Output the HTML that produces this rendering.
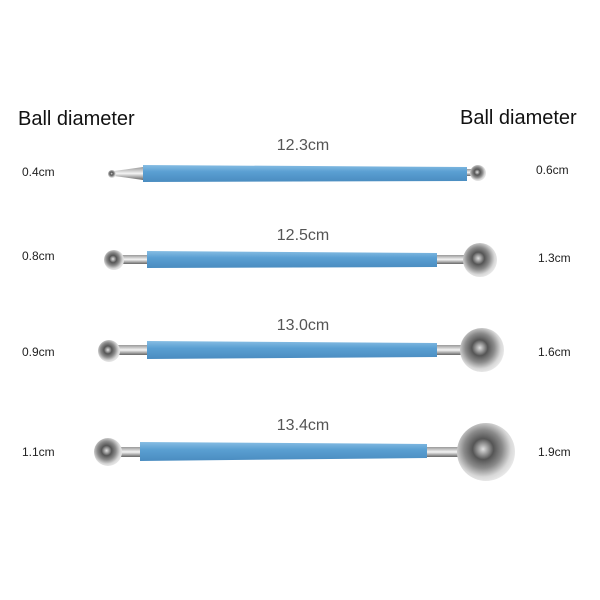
<!DOCTYPE html>
<html><head><style>body{margin:0;background:#fff}svg{display:block}</style></head><body>
<svg width="600" height="600" viewBox="0 0 600 600" xmlns="http://www.w3.org/2000/svg" font-family="Liberation Sans, sans-serif">
<defs>
<radialGradient id="ball" cx="0.45" cy="0.45" r="0.6">
<stop offset="0" stop-color="#e0e0e0"/><stop offset="0.3" stop-color="#555"/><stop offset="0.55" stop-color="#8a8a8a"/><stop offset="0.8" stop-color="#d8d8d8"/><stop offset="1" stop-color="#f0f0f0"/>
</radialGradient>
<linearGradient id="shaft" x1="0" y1="0" x2="0" y2="1">
<stop offset="0" stop-color="#86bde3"/><stop offset="0.4" stop-color="#5a9fd2"/><stop offset="1" stop-color="#4a8cc0"/>
</linearGradient>
<linearGradient id="rod" x1="0" y1="0" x2="0" y2="1">
<stop offset="0" stop-color="#999"/><stop offset="0.5" stop-color="#f4f4f4"/><stop offset="1" stop-color="#666"/>
</linearGradient>
</defs>
<text x="18" y="125" font-size="20" fill="#111">Ball diameter</text>
<text x="460" y="124" font-size="20" fill="#111">Ball diameter</text>
<g font-size="12" fill="#222">
<text x="22" y="176">0.4cm</text><text x="536" y="174">0.6cm</text>
<text x="22" y="260">0.8cm</text><text x="538" y="262">1.3cm</text>
<text x="22" y="356">0.9cm</text><text x="538" y="356">1.6cm</text>
<text x="22" y="456">1.1cm</text><text x="538" y="456">1.9cm</text>
</g>
<g font-size="16" fill="#555" text-anchor="middle">
<text x="303" y="150">12.3cm</text>
<text x="303" y="240">12.5cm</text>
<text x="303" y="330">13.0cm</text>
<text x="303" y="430">13.4cm</text>
</g>
<path d="M114 171 L143 167 L143 180 L114 176Z" fill="url(#rod)"/>
<rect x="465" y="169" width="12" height="7" fill="url(#rod)"/>
<path d="M143 165 L467 167 L467 181 L143 182Z" fill="url(#shaft)"/>
<circle cx="112" cy="174" r="4" fill="url(#ball)"/>
<circle cx="478" cy="173" r="8" fill="url(#ball)"/>
<rect x="120" y="255" width="30" height="9" fill="url(#rod)"/>
<rect x="435" y="255" width="32" height="9" fill="url(#rod)"/>
<path d="M147 251 L437 253 L437 267 L147 268Z" fill="url(#shaft)"/>
<circle cx="114" cy="260" r="10" fill="url(#ball)"/>
<circle cx="480" cy="260" r="17" fill="url(#ball)"/>
<rect x="115" y="345" width="35" height="10" fill="url(#rod)"/>
<rect x="435" y="345" width="30" height="10" fill="url(#rod)"/>
<path d="M147 341 L437 343 L437 357 L147 359Z" fill="url(#shaft)"/>
<circle cx="109" cy="351" r="11" fill="url(#ball)"/>
<circle cx="482" cy="350" r="22" fill="url(#ball)"/>
<rect x="115" y="447" width="30" height="10" fill="url(#rod)"/>
<rect x="425" y="447" width="40" height="10" fill="url(#rod)"/>
<path d="M140 442 L427 444 L427 458 L140 461Z" fill="url(#shaft)"/>
<circle cx="108" cy="452" r="14" fill="url(#ball)"/>
<circle cx="486" cy="452" r="29" fill="url(#ball)"/>
</svg>
</body></html>
